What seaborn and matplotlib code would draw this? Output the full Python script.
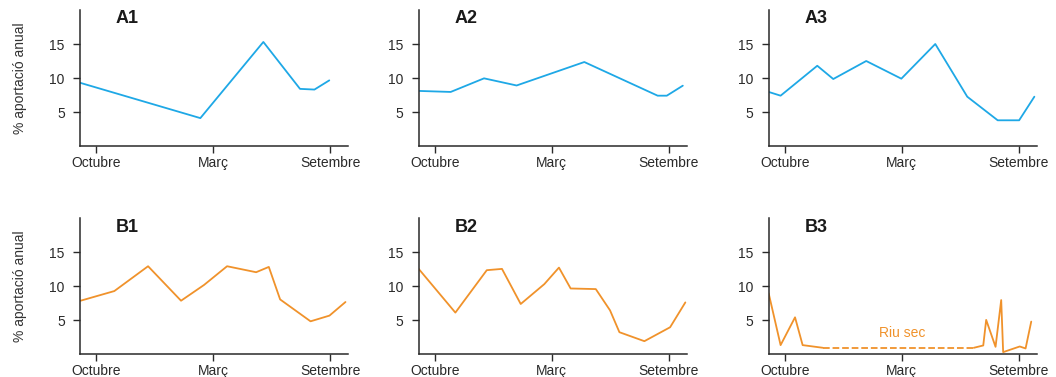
import matplotlib
matplotlib.use("Agg")
import matplotlib.pyplot as plt
import seaborn as sns
import pandas as pd

# Month axis: Octubre = 0, Març = 6, Setembre = 12
tick_pos = [0, 6, 12]
tick_labels = ["Octubre", "Març", "Setembre"]
y_ticks = [5, 10, 15]

a1_x = [-0.82, 5.35, 8.58, 10.46, 11.2, 11.96]
a1_y = [9.3, 4.1, 15.3, 8.4, 8.3, 9.65]

a2_x = [-0.82, 0.82, 2.53, 4.2, 7.67, 11.43, 11.9, 12.72]
a2_y = [8.1, 7.95, 9.95, 8.9, 12.35, 7.4, 7.4, 8.87]

a3_x = [-0.82, -0.21, 1.67, 2.49, 4.18, 5.98, 7.72, 9.36, 10.92, 12.02, 12.8]
a3_y = [7.95, 7.4, 11.8, 9.85, 12.5, 9.9, 15.0, 7.25, 3.78, 3.78, 7.25]

b1_x = [-0.79, 0.94, 2.67, 4.36, 5.54, 6.72, 8.21, 8.86, 9.44, 11.0, 11.97, 12.79]
b1_y = [7.88, 9.3, 12.95, 7.88, 10.2, 12.95, 12.07, 12.85, 8.07, 4.85, 5.69, 7.69]

b2_x = [-0.82, 1.06, 2.67, 3.45, 4.41, 5.62, 6.37, 6.97, 8.26, 8.99, 9.47, 10.75, 12.07, 12.85]
b2_y = [12.56, 6.13, 12.37, 12.56, 7.4, 10.32, 12.75, 9.68, 9.59, 6.46, 3.25, 1.93, 3.98, 7.63]

# B3 flows before and after the dry period
b3_wet1_x = [-0.82, -0.21, 0.53, 0.92, 1.95]
b3_wet1_y = [8.95, 1.35, 5.44, 1.35, 0.96]
b3_dry_x = [1.95, 9.7]
b3_dry_y = [0.96, 0.96]
b3_wet2_x = [9.7, 10.18, 10.33, 10.81, 11.1, 11.2, 12.05, 12.35, 12.64]
b3_wet2_y = [0.96, 1.3, 5.06, 1.1, 7.98, 0.32, 1.15, 0.86, 4.81]

BLUE = "#1ea8e6"
ORANGE = "#f0922b"
AXIS = "#2a2a2a"

sns.set_style("ticks")
plt.rcParams["font.family"] = ["Liberation Sans", "DejaVu Sans"]

fig = plt.figure(figsize=(10.56, 3.77), dpi=100)

lefts = [80 / 1056, 418.7 / 1056, 768.7 / 1056]
bottoms = [1 - 146 / 377, 1 - 354.3 / 377]
w = 268 / 1056
h = 136 / 377

panels = [
    ("A1", [(a1_x, a1_y, "-")], BLUE),
    ("A2", [(a2_x, a2_y, "-")], BLUE),
    ("A3", [(a3_x, a3_y, "-")], BLUE),
    ("B1", [(b1_x, b1_y, "-")], ORANGE),
    ("B2", [(b2_x, b2_y, "-")], ORANGE),
    ("B3", [(b3_wet1_x, b3_wet1_y, "-"), (b3_dry_x, b3_dry_y, "--"),
            (b3_wet2_x, b3_wet2_y, "-")], ORANGE),
]

for i, (name, series, color) in enumerate(panels):
    row, col = divmod(i, 3)
    ax = fig.add_axes([lefts[col], bottoms[row], w, h])
    for xs, ys, ls in series:
        df = pd.DataFrame({"x": xs, "y": ys})
        sns.lineplot(data=df, x="x", y="y", ax=ax, color=color, lw=1.3,
                     linestyle=ls, sort=False, estimator=None,
                     dashes=(4, 3) if ls == "--" else None)
    ax.set_xlim(-0.82, 12.92)
    ax.set_ylim(0, 20)
    ax.set_xticks(tick_pos)
    ax.set_xticklabels(tick_labels)
    ax.set_yticks(y_ticks)
    ax.set_xlabel("")
    ax.set_ylabel("% aportació anual" if col == 0 else "", fontsize=10,
                  color="#333333", labelpad=16)
    sns.despine(ax=ax)
    for sp in ("left", "bottom"):
        ax.spines[sp].set_linewidth(1.1)
        ax.spines[sp].set_color(AXIS)
    ax.tick_params(axis="both", length=5, width=1.0, color=AXIS,
                   labelsize=10, labelcolor="#2a2a2a", pad=2)
    ax.tick_params(axis="y", pad=6)
    ax.text(1.6, 18.7, name, fontsize=13, fontweight="bold", ha="center",
            va="center", color="#1a1a1a")
    if name == "B3":
        ax.text(6, 3.1, "Riu sec", fontsize=10, color=ORANGE, ha="center",
                va="center")

fig.savefig("out.png", dpi=100)
